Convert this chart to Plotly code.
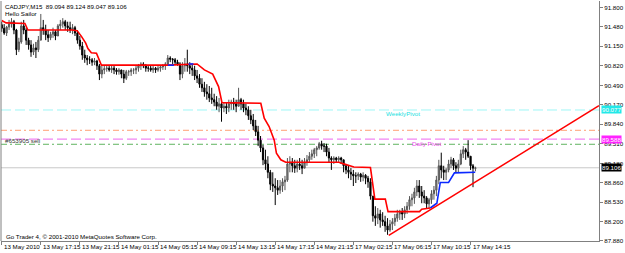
import plotly.graph_objects as go

# ---------------- data ----------------
bar_index = list(range(195))

opens = [91.51, 91.45, 91.37, 91.47, 91.52, 91.56, 91.42, 91.09, 91.22, 91.49,
         91.42, 91.25, 91.17, 91.05, 91.12, 91.09, 91.25, 91.46, 91.42, 91.34,
         91.29, 91.35, 91.39, 91.32, 91.49, 91.52, 91.56, 91.49, 91.46, 91.42,
         91.46, 91.37, 91.25, 91.15, 91.00, 90.95, 90.92, 90.92, 90.88, 90.90,
         90.82, 90.68, 90.75, 90.77, 90.78, 90.75, 90.78, 90.75, 90.72, 90.75,
         90.68, 90.61, 90.72, 90.72, 90.75, 90.75, 90.78, 90.82, 90.85, 90.82,
         90.78, 90.78, 90.75, 90.78, 90.75, 90.78, 90.80, 90.82, 90.85, 90.95,
         90.93, 90.92, 90.88, 90.85, 90.68, 90.82, 90.85, 90.82, 90.78, 90.75,
         90.65, 90.61, 90.51, 90.45, 90.38, 90.35, 90.28, 90.25, 90.21, 90.14,
         90.18, 90.11, 90.14, 90.11, 90.18, 90.21, 90.18, 90.14, 90.25, 90.18,
         90.11, 90.08, 89.98, 89.91, 89.81, 89.71, 89.57, 89.44, 89.24, 89.17,
         89.03, 88.83, 88.80, 88.77, 88.73, 88.80, 88.87, 88.90, 89.17, 89.20,
         89.14, 89.10, 89.17, 89.14, 89.10, 89.20, 89.24, 89.30, 89.34, 89.41,
         89.44, 89.51, 89.47, 89.47, 89.37, 89.27, 89.24, 89.27, 89.24, 89.27,
         89.24, 89.14, 89.07, 89.03, 89.00, 88.97, 88.97, 89.00, 88.95, 88.98,
         88.93, 88.87, 88.63, 88.30, 88.26, 88.33, 88.23, 88.20, 88.13, 88.06,
         88.16, 88.20, 88.26, 88.33, 88.36, 88.33, 88.40, 88.46, 88.57, 88.60,
         88.70, 88.80, 88.70, 88.63, 88.60, 88.50, 88.57, 88.67, 88.73, 88.90,
         89.14, 89.07, 89.03, 89.07, 89.17, 89.24, 89.14, 89.10, 89.17, 89.34,
         89.41, 89.37, 89.30, 89.14, 89.094]

highs = [91.56, 91.52, 91.49, 91.59, 91.62, 91.59, 91.44, 91.29, 91.56, 91.59,
         91.46, 91.29, 91.25, 91.19, 91.22, 91.32, 91.69, 91.59, 91.51, 91.42,
         91.39, 91.46, 91.42, 91.52, 91.59, 91.62, 91.59, 91.56, 91.56, 91.52,
         91.49, 91.42, 91.32, 91.22, 91.09, 91.00, 90.98, 90.95, 90.95, 90.92,
         90.85, 90.82, 90.82, 90.82, 90.83, 90.82, 90.82, 90.78, 90.78, 90.75,
         90.75, 90.75, 90.75, 90.78, 90.78, 90.82, 90.85, 90.88, 90.88, 90.85,
         90.83, 90.82, 90.82, 90.80, 90.82, 90.82, 90.85, 90.88, 91.00, 90.98,
         90.95, 90.95, 90.92, 90.88, 90.88, 90.95, 91.09, 90.88, 90.85, 90.82,
         90.75, 90.68, 90.61, 90.55, 90.51, 90.48, 90.45, 90.35, 90.31, 90.28,
         90.25, 90.21, 90.21, 90.25, 90.25, 90.28, 90.25, 90.45, 90.28, 90.25,
         90.18, 90.14, 90.08, 90.01, 89.91, 89.81, 89.64, 89.49, 89.41, 89.30,
         89.07, 89.03, 88.93, 88.90, 88.90, 88.93, 88.97, 89.27, 89.30, 89.27,
         89.24, 89.24, 89.27, 89.24, 89.27, 89.32, 89.37, 89.41, 89.44, 89.47,
         89.54, 89.56, 89.52, 89.51, 89.44, 89.30, 89.30, 89.29, 89.30, 89.29,
         89.24, 89.17, 89.14, 89.10, 89.07, 89.03, 89.03, 89.02, 89.03, 89.00,
         88.97, 88.93, 88.63, 88.46, 88.43, 88.40, 88.36, 88.30, 88.26, 88.23,
         88.26, 88.33, 88.40, 88.40, 88.43, 88.46, 88.53, 88.63, 88.67, 88.77,
         88.90, 88.90, 88.80, 88.73, 88.63, 88.60, 88.73, 88.80, 88.97, 89.24,
         89.36, 89.14, 89.10, 89.24, 89.29, 89.27, 89.20, 89.24, 89.41, 89.47,
         89.44, 89.57, 89.30, 89.17, 89.124]

lows = [91.39, 91.34, 91.32, 91.42, 91.46, 91.35, 91.00, 91.05, 91.19, 91.35,
        91.17, 91.09, 90.97, 91.00, 90.95, 91.05, 91.25, 91.34, 91.25, 91.22,
        91.25, 91.29, 91.25, 91.32, 91.42, 91.46, 91.42, 91.39, 91.37, 91.35,
        91.32, 91.19, 91.09, 90.92, 90.87, 90.83, 90.85, 90.82, 90.83, 90.75,
        90.58, 90.61, 90.68, 90.72, 90.72, 90.70, 90.68, 90.67, 90.67, 90.61,
        90.53, 90.58, 90.65, 90.65, 90.68, 90.68, 90.72, 90.75, 90.78, 90.72,
        90.72, 90.72, 90.70, 90.70, 90.72, 90.72, 90.75, 90.75, 90.83, 90.88,
        90.85, 90.83, 90.82, 90.58, 90.61, 90.72, 90.72, 90.68, 90.65, 90.58,
        90.53, 90.45, 90.38, 90.30, 90.25, 90.21, 90.18, 90.14, 90.08, 90.04,
        89.88, 90.04, 90.01, 90.04, 90.08, 90.08, 90.04, 90.14, 90.08, 90.04,
        89.99, 89.91, 89.84, 89.74, 89.64, 89.47, 89.37, 89.15, 89.07, 88.93,
        88.73, 88.70, 88.48, 88.65, 88.67, 88.70, 88.73, 88.87, 89.03, 89.03,
        89.02, 89.03, 89.07, 89.00, 89.10, 89.14, 89.20, 89.24, 89.27, 89.30,
        89.41, 89.41, 89.37, 89.30, 89.20, 89.07, 89.17, 89.20, 89.19, 89.17,
        89.03, 89.00, 88.93, 88.90, 88.80, 88.85, 88.90, 88.87, 88.88, 88.83,
        88.77, 88.57, 88.20, 88.13, 88.16, 88.10, 88.13, 88.03, 87.98, 88.03,
        88.06, 88.13, 88.20, 88.23, 88.23, 88.26, 88.33, 88.40, 88.46, 88.50,
        88.63, 88.60, 88.51, 88.51, 88.43, 88.43, 88.50, 88.57, 88.63, 88.83,
        88.93, 88.90, 88.90, 89.03, 89.10, 89.07, 89.02, 89.03, 89.15, 89.27,
        89.24, 89.27, 89.07, 88.78, 89.047]

closes = [91.45, 91.37, 91.47, 91.52, 91.56, 91.42, 91.09, 91.22, 91.49, 91.42,
          91.25, 91.17, 91.05, 91.12, 91.09, 91.25, 91.46, 91.42, 91.34, 91.29,
          91.35, 91.39, 91.32, 91.49, 91.52, 91.56, 91.49, 91.46, 91.42, 91.46,
          91.37, 91.25, 91.15, 91.00, 90.95, 90.92, 90.92, 90.88, 90.90, 90.82,
          90.68, 90.75, 90.77, 90.78, 90.75, 90.78, 90.75, 90.72, 90.75, 90.68,
          90.61, 90.72, 90.72, 90.75, 90.75, 90.78, 90.82, 90.85, 90.82, 90.78,
          90.78, 90.75, 90.78, 90.75, 90.78, 90.80, 90.82, 90.85, 90.95, 90.93,
          90.92, 90.88, 90.85, 90.68, 90.82, 90.85, 90.82, 90.78, 90.75, 90.65,
          90.61, 90.51, 90.45, 90.38, 90.35, 90.28, 90.25, 90.21, 90.14, 90.18,
          90.11, 90.14, 90.11, 90.18, 90.21, 90.18, 90.14, 90.25, 90.18, 90.11,
          90.08, 89.98, 89.91, 89.81, 89.71, 89.57, 89.44, 89.24, 89.17, 89.03,
          88.83, 88.80, 88.77, 88.73, 88.80, 88.87, 88.90, 89.17, 89.20, 89.14,
          89.10, 89.17, 89.14, 89.10, 89.20, 89.24, 89.30, 89.34, 89.41, 89.44,
          89.51, 89.47, 89.47, 89.37, 89.27, 89.24, 89.27, 89.24, 89.27, 89.24,
          89.14, 89.07, 89.03, 89.00, 88.97, 88.97, 89.00, 88.95, 88.98, 88.93,
          88.87, 88.63, 88.30, 88.26, 88.33, 88.23, 88.20, 88.13, 88.06, 88.16,
          88.20, 88.26, 88.33, 88.36, 88.33, 88.40, 88.46, 88.57, 88.60, 88.70,
          88.80, 88.70, 88.63, 88.60, 88.50, 88.57, 88.67, 88.73, 88.90, 89.14,
          89.07, 89.03, 89.07, 89.17, 89.24, 89.14, 89.10, 89.17, 89.34, 89.41,
          89.37, 89.30, 89.14, 89.10, 89.106]

# stepped red trailing line (bar index, price)
red_x = [0, 1.8, 9.5, 10.7, 28.7, 30.9, 32.7, 34.4, 35.3, 36.7, 38.8, 40.8, 68,
         80, 83, 86.4, 88.8, 90.2, 106.1, 107.5, 109.5, 111.6, 112.5, 114.3,
         116.3, 138.1, 139.4, 144.2, 151, 152.8, 157.1, 158.2, 171.1, 172, 175.5]
red_y = [91.58, 91.54, 91.53, 91.42, 91.42, 91.41, 91.31, 91.20, 91.11, 91.04,
         91.03, 90.83, 90.83, 90.85, 90.75, 90.68, 90.47, 90.20, 90.19, 89.94,
         89.80, 89.57, 89.35, 89.24, 89.20, 89.20, 89.18, 89.12, 89.11, 88.58,
         88.58, 88.37, 88.37, 88.41, 88.43]

# blue trailing line pieces
blue_x = [68, 70.5, None, 76.5, 78.5, None, 175.5, 178.2, 179.6, 183, 185.4, 193.9]
blue_y = [90.83, 90.83, None, 90.85, 90.85, None, 88.43, 88.51, 88.86, 88.86, 89.02, 89.03]

# rising trend line
trend_x = [158.5, 244.6]
trend_y = [87.97, 90.15]

# horizontal levels
weekly_pivot = 90.077
orange_level = 89.736
daily_pivot = 89.588
green_level = 89.501
bid_price = 89.106

x_tick_idx = [0, 16, 32, 48, 64, 80, 96, 112, 128, 144, 160, 176, 192]
x_tick_text = ["13 May 2010", "13 May 17:15", "13 May 21:15", "14 May 01:15",
               "14 May 05:15", "14 May 09:15", "14 May 13:15", "14 May 17:15",
               "14 May 21:15", "17 May 02:15", "17 May 06:15", "17 May 10:15",
               "17 May 14:15"]
y_tick_vals = [91.800, 91.480, 91.150, 90.820, 90.490, 90.170, 89.840,
               89.510, 89.180, 88.860, 88.530, 88.200, 87.880]

header_text = "CADJPY,M15  89.094 89.124 89.047 89.106"
comment_text = "Hello Sailor"
order_text = "#653905 sell"
copyright_text = "Go Trader 4, \u00a9 2001-2010 MetaQuotes Software Corp."

# ---------------- figure ----------------
FONT = "Liberation Sans"
FS = 6.2

fig = go.Figure()

fig.add_trace(go.Candlestick(
    x=bar_index, open=opens, high=highs, low=lows, close=closes,
    increasing=dict(line=dict(color="#555555", width=1), fillcolor="#8a8a8a"),
    decreasing=dict(line=dict(color="#000000", width=1), fillcolor="#000000"),
    whiskerwidth=0, showlegend=False, hoverinfo="skip"))

fig.add_trace(go.Scatter(x=red_x, y=red_y, mode="lines",
                         line=dict(color="#ff0000", width=1.6), showlegend=False))
fig.add_trace(go.Scatter(x=blue_x, y=blue_y, mode="lines",
                         line=dict(color="#0a28ff", width=1.6), showlegend=False,
                         connectgaps=False))
fig.add_trace(go.Scatter(x=trend_x, y=trend_y, mode="lines",
                         line=dict(color="#ff0000", width=1.6), showlegend=False))

level_styles = [
    (weekly_pivot, "#9ff6f6", "10px,4px"),
    (orange_level, "#ff9f73", "6px,3px,2px,3px"),
    (daily_pivot, "#ee66ee", "10px,4px"),
    (green_level, "#5fb45f", "6px,3px,2px,3px"),
]
shapes = []
for lv, col, dash in level_styles:
    shapes.append(dict(type="line", xref="paper", x0=0, x1=1, yref="y", y0=lv, y1=lv,
                       line=dict(color=col, width=1, dash=dash), layer="below"))
shapes.append(dict(type="line", xref="paper", x0=0, x1=1, yref="y", y0=bid_price,
                   y1=bid_price, line=dict(color="#c8c8c8", width=1), layer="below"))
# left frame line
shapes.append(dict(type="line", xref="paper", x0=0, x1=0, yref="paper", y0=0, y1=1,
                   line=dict(color="#808080", width=1)))

ann = []
def txt(text, x, y, xref, yref, color="#000000", xanchor="left", yanchor="middle",
        bg=None, size=FS, xshift=0, yshift=0):
    d = dict(text=text, x=x, y=y, xref=xref, yref=yref, showarrow=False,
             xanchor=xanchor, yanchor=yanchor, xshift=xshift, yshift=yshift,
             font=dict(family=FONT, size=size, color=color), borderpad=0)
    if bg:
        d["bgcolor"] = bg
    ann.append(d)

txt(header_text, 0.005, 0.978, "paper", "paper")
txt(comment_text, 0.005, 0.948, "paper", "paper")
txt(copyright_text, 0.006, 0.018, "paper", "paper")
txt(order_text, 0.005, 89.56, "paper", "y", color="#333333")
txt("WeeklyPivot", 156.9, 90.01, "x", "y", color="#22e0e0")
txt("Daily Pivot", 167.6, 89.52, "x", "y", color="#ee44ee")

for i, t in zip(x_tick_idx, x_tick_text):
    txt(t, i, 0, "x", "paper", yanchor="top", xshift=1, yshift=-1)

txt("90.077", 1, weekly_pivot, "paper", "y", color="#ffffff", bg="#22e8e8", xshift=2)
txt("89.588", 1, daily_pivot, "paper", "y", color="#ffffff", bg="#ff22ff", xshift=2)
txt("89.106", 1, bid_price, "paper", "y", color="#ffffff", bg="#000000", xshift=2)

fig.update_layout(
    width=625, height=253,
    margin=dict(l=1, r=24, t=1, b=12, pad=0),
    paper_bgcolor="#ffffff", plot_bgcolor="#ffffff",
    shapes=shapes, annotations=ann,
    showlegend=False,
    xaxis=dict(range=[-0.3, 244.6], tickvals=x_tick_idx, showticklabels=False,
               ticks="outside", ticklen=3, tickcolor="#808080", showline=True,
               linecolor="#808080", linewidth=1, showgrid=False, zeroline=False,
               rangeslider=dict(visible=False), fixedrange=True),
    yaxis=dict(side="right", range=[87.876, 91.908], tickvals=y_tick_vals,
               ticktext=["%.3f" % v for v in y_tick_vals], ticks="outside",
               ticklen=3, tickcolor="#808080", showline=True, linecolor="#808080",
               linewidth=1, showgrid=False, zeroline=False,
               tickfont=dict(family=FONT, size=FS, color="#000000")),
)

fig.write_html("out.html")
